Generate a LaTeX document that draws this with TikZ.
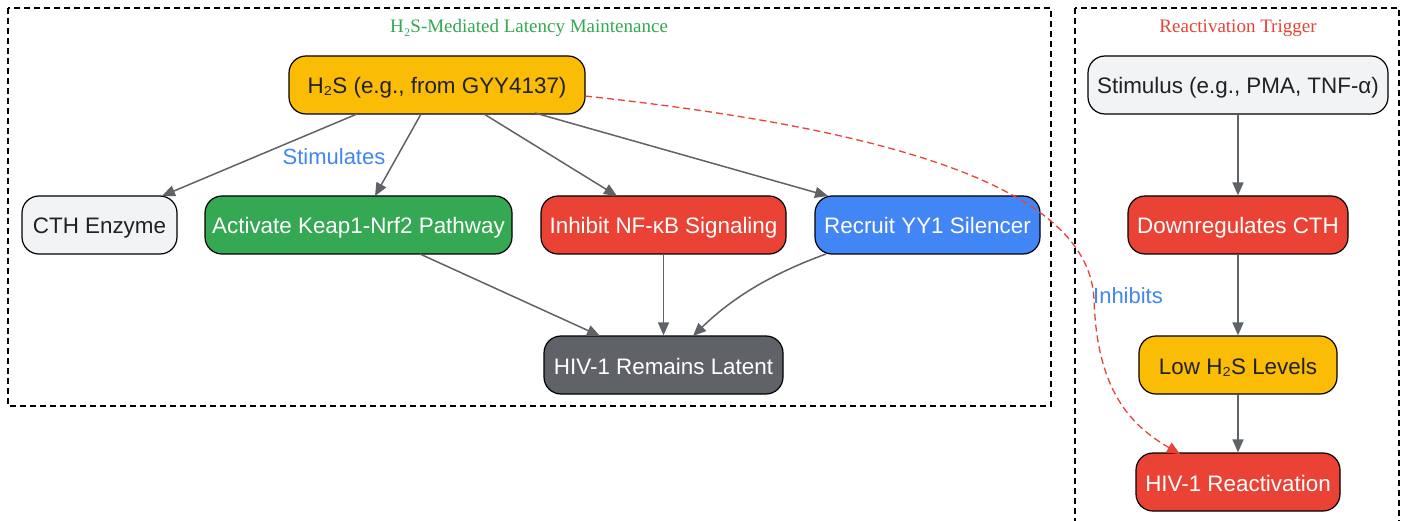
\documentclass[tikz,border=0pt]{standalone}
\usepackage{fontspec}
\setmainfont{Liberation Sans}
\newfontfamily\titlefont{Liberation Serif}
\usetikzlibrary{arrows.meta}
\definecolor{cgreen}{HTML}{34A853}
\definecolor{cred}{HTML}{EA4335}
\definecolor{cblue}{HTML}{4285F4}
\definecolor{cyellow}{HTML}{FBBC05}
\definecolor{clight}{HTML}{F1F3F4}
\definecolor{cgray}{HTML}{5F6368}
\definecolor{cdark}{HTML}{202124}
\tikzset{
  box/.style={draw=black, line width=1.2pt, rounded corners=17pt, minimum height=58pt, inner xsep=0pt, text height=20pt, text depth=2pt, font=\fontsize{22.4}{26}\selectfont},
  lightbox/.style={box, fill=clight, text=cdark},
  yellowbox/.style={box, fill=cyellow, text=cdark},
  greenbox/.style={box, fill=cgreen, text=white},
  redbox/.style={box, fill=cred, text=white},
  bluebox/.style={box, fill=cblue, text=white},
  graybox/.style={box, fill=cgray, text=white},
  cluster/.style={draw=black, line width=1.2pt, dash pattern=on 6pt off 4pt},
  edge/.style={draw=cgray, line width=1.5pt, -{Triangle[length=13pt,width=11pt]}},
  redge/.style={draw=cred, line width=1.3pt, dash pattern=on 7pt off 4pt, -{Triangle[length=13pt,width=11pt]}},
  elabel/.style={text=cblue, font=\fontsize{22}{26}\selectfont},
  ctitle/.style={font=\titlefont\fontsize{19}{22}\selectfont}
}
\begin{document}
\begin{tikzpicture}[x=1pt,y=-1pt]
\useasboundingbox (0,0) rectangle (1407,521);
\clip (0,0) rectangle (1407,521);
\fill[white] (0,0) rectangle (1407,521);
% clusters
\draw[cluster] (8,8) rectangle (1051,406);
\draw[cluster] (1075,8) rectangle (1399,540);
\node[ctitle, text=cgreen] (t1) at (529,28) {H₂S-Mediated Latency Maintenance};
\node[ctitle, text=cred] (t2) at (1238,28) {Reactivation Trigger};
% left nodes
\node[yellowbox, minimum width=296pt] (h2s) at (437,85) {H₂S (e.g., from GYY4137)};
\node[lightbox, minimum width=155pt] (cth) at (99.5,225) {CTH Enzyme};
\node[greenbox, minimum width=307pt] (keap) at (358.5,225) {Activate Keap1-Nrf2 Pathway};
\node[redbox, minimum width=245pt] (nfkb) at (663.5,225) {Inhibit NF-κB Signaling};
\node[bluebox, minimum width=225pt] (yy1) at (927.5,225) {Recruit YY1 Silencer};
\node[graybox, minimum width=239pt] (latent) at (663.5,365) {HIV-1 Remains Latent};
% right nodes
\node[lightbox, minimum width=300pt] (stim) at (1238,85) {Stimulus (e.g., PMA, TNF-α)};
\node[redbox, minimum width=220pt] (down) at (1238,225) {Downregulates CTH};
\node[yellowbox, minimum width=198pt] (low) at (1238,365) {Low H₂S Levels};
\node[redbox, minimum width=204pt] (react) at (1238,482) {HIV-1 Reactivation};
% coordinates for edges
\coordinate (a1) at (357,114);
\coordinate (a2) at (421,114);
\coordinate (a3) at (484,114);
\coordinate (a4) at (535,113);
\coordinate (b1) at (162,196);
\coordinate (b2) at (375,196);
\coordinate (b3) at (617,196);
\coordinate (b4) at (828,196);
\draw[edge] (a1) -- (b1);
\draw[edge] (a2) -- (b2);
\draw[edge] (a3) -- (b3);
\draw[edge] (a4) -- (b4);
\node[elabel] (stimlab) at (334,157) {Stimulates};
\coordinate (c1) at (420,254);
\coordinate (d1) at (600,336);
\coordinate (c3) at (826,254);
\coordinate (d3) at (693,336);
\draw[edge] (c1) -- (d1);
\draw[edge] (nfkb.south) -- (latent.north);
\draw[edge] (c3) .. controls (760,278) and (725,305) .. (d3);
\draw[edge] (stim.south) -- (down.north);
\draw[edge] (down.south) -- (low.north);
\draw[edge] (low.south) -- (react.north);
% inhibit dashed
\coordinate (e0) at (585,96);
\coordinate (emid) at (1094,300);
\coordinate (e1) at (1180,454);
\draw[redge] (e0) .. controls (900,130) and (1090,190) .. (emid) .. controls (1097,390) and (1130,425) .. (e1);
\node[elabel] (inhlab) at (1128,296) {Inhibits};
\end{tikzpicture}
\end{document}
